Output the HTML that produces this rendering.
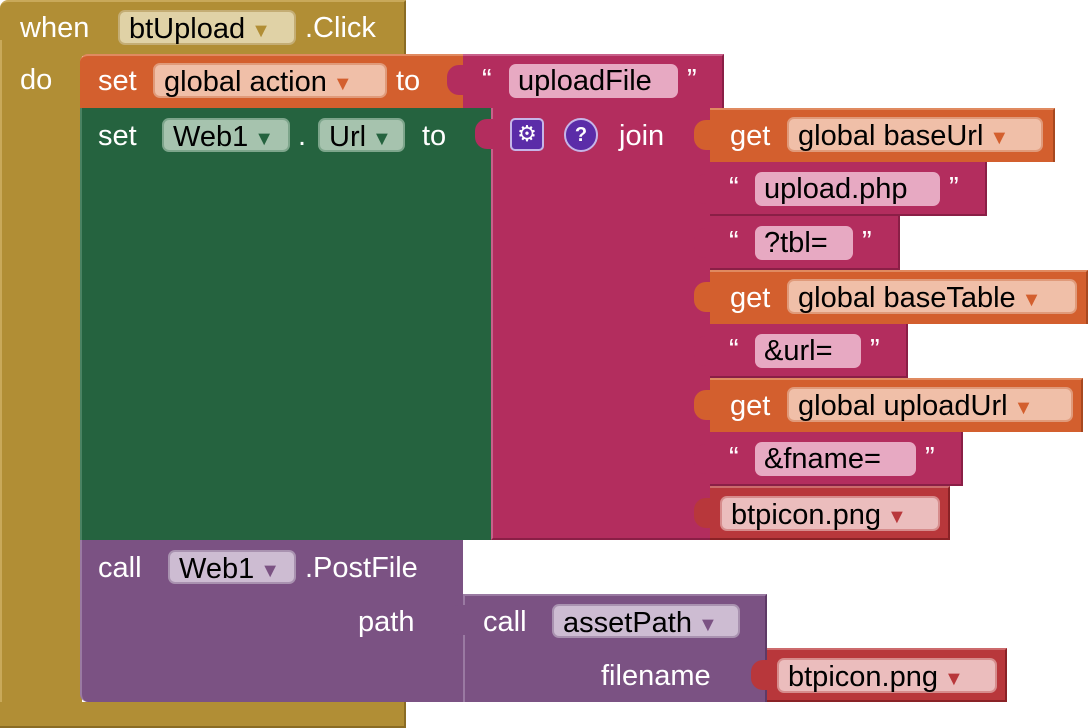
<!DOCTYPE html>
<html><head><meta charset="utf-8">
<style>
body{margin:0;width:1088px;height:728px;background:#fff;position:relative;overflow:hidden;font-family:"Liberation Sans",Arial,sans-serif;}
.b{position:absolute;box-sizing:border-box;}
.t{position:absolute;color:#fff;font-size:29px;line-height:32px;white-space:nowrap;}
.d{position:absolute;box-sizing:border-box;border-radius:7px;font-size:29px;line-height:34px;color:#000;padding-left:9px;white-space:nowrap;}
.d i{font-style:normal;font-size:20px;margin-left:6px;vertical-align:1px;}
.tab{position:absolute;width:18px;height:30px;border-radius:12px 0 0 12px;}
</style></head><body>
<div class="b" style="left:0;top:0;width:406px;height:56px;background:#B18E35;border-top:2px solid #c9a95a;border-right:2px solid #8a6c24;border-radius:8px 0 0 0"></div>
<div class="b" style="left:0;top:40px;width:82px;height:688px;background:#B18E35;border-left:2px solid #c9a95a;border-radius:0 0 0 8px"></div>
<div class="b" style="left:0;top:702px;width:406px;height:26px;background:#B18E35;border-right:2px solid #8a6c24;border-bottom:2px solid #8a6c24"></div>
<div class="t" style="left:20px;top:12px">when</div>
<div class="d" style="left:118px;top:10px;width:178px;height:35px;background:#E0D2A6;border:2px solid #c4ad74">btUpload<i style="color:#B18E35">▼</i></div>
<div class="t" style="left:305px;top:12px">.Click</div>
<div class="t" style="left:20px;top:64px">do</div>

<div class="b" style="left:80px;top:54px;width:385px;height:56px;background:#D35F2E;border-top:2px solid #e08a60;border-radius:8px 0 0 0"></div>
<div class="t" style="left:98px;top:65px">set</div>
<div class="d" style="left:153px;top:63px;width:234px;height:35px;background:#F0BFA8;border:2px solid #e09a7a">global action<i style="color:#D35F2E">▼</i></div>
<div class="t" style="left:396px;top:65px">to</div>
<div class="b" style="left:463px;top:54px;width:261px;height:54px;background:#B32D5E;border-top:2px solid #c8608a;border-right:2px solid #8a1f46"></div>
<div class="tab" style="left:447px;top:65px;background:#B32D5E"></div>
<div class="t" style="left:482px;top:64px">“</div>
<div class="d" style="left:509px;top:64px;width:169px;height:34px;background:#E7A9C2">uploadFile</div>
<div class="t" style="left:687px;top:64px">”</div>

<div class="b" style="left:80px;top:108px;width:412px;height:432px;background:#25633F;border-left:2px solid #4a8262"></div>
<div class="t" style="left:98px;top:120px">set</div>
<div class="d" style="left:162px;top:118px;width:128px;height:34px;background:#A6C3AE;border:2px solid #7da58b">Web1<i style="color:#25633F">▼</i></div>
<div class="t" style="left:298px;top:120px">.</div>
<div class="d" style="left:318px;top:118px;width:87px;height:34px;background:#A6C3AE;border:2px solid #7da58b">Url<i style="color:#25633F">▼</i></div>
<div class="t" style="left:422px;top:120px">to</div>
<div class="b" style="left:491px;top:108px;width:220px;height:432px;background:#B32D5E;border-left:2px solid #c8608a;border-bottom:2px solid #8a1f46"></div>
<div class="tab" style="left:475px;top:119px;background:#B32D5E"></div>
<div class="b" style="left:510px;top:118px;width:34px;height:33px;background:#5B2CA8;border:2px solid #c6b5e8;border-radius:5px;color:#fff;font-size:22px;text-align:center;line-height:28px">⚙</div>
<div class="b" style="left:564px;top:118px;width:34px;height:34px;background:#5B2CA8;border:2px solid #c6b5e8;border-radius:50%;color:#fff;font-size:20px;font-weight:bold;text-align:center;line-height:30px">?</div>
<div class="t" style="left:619px;top:120px">join</div>

<div class="b" style="left:710px;top:108px;width:345px;height:54px;background:#D35F2E;border-top:2px solid #e08a60;border-right:2px solid #a8481f"></div>
<div class="tab" style="left:694px;top:120px;background:#D35F2E"></div>
<div class="t" style="left:730px;top:120px">get</div>
<div class="d" style="left:787px;top:117px;width:256px;height:35px;background:#F0BFA8;border:2px solid #e09a7a">global baseUrl<i style="color:#D35F2E">▼</i></div>

<div class="b" style="left:710px;top:162px;width:277px;height:54px;background:#B32D5E;border-right:2px solid #8a1f46;border-bottom:2px solid #8a1f46"></div>
<div class="tab" style="left:694px;top:174px;background:#B32D5E"></div>
<div class="t" style="left:729px;top:172px">“</div>
<div class="d" style="left:755px;top:172px;width:185px;height:34px;background:#E7A9C2">upload.php</div>
<div class="t" style="left:949px;top:172px">”</div>

<div class="b" style="left:710px;top:216px;width:190px;height:54px;background:#B32D5E;border-right:2px solid #8a1f46;border-bottom:2px solid #8a1f46"></div>
<div class="tab" style="left:694px;top:228px;background:#B32D5E"></div>
<div class="t" style="left:729px;top:226px">“</div>
<div class="d" style="left:755px;top:226px;width:98px;height:34px;background:#E7A9C2">?tbl=</div>
<div class="t" style="left:862px;top:226px">”</div>

<div class="b" style="left:710px;top:270px;width:378px;height:54px;background:#D35F2E;border-top:2px solid #e08a60;border-right:2px solid #a8481f"></div>
<div class="tab" style="left:694px;top:282px;background:#D35F2E"></div>
<div class="t" style="left:730px;top:282px">get</div>
<div class="d" style="left:787px;top:279px;width:290px;height:35px;background:#F0BFA8;border:2px solid #e09a7a">global baseTable<i style="color:#D35F2E">▼</i></div>

<div class="b" style="left:710px;top:324px;width:198px;height:54px;background:#B32D5E;border-right:2px solid #8a1f46;border-bottom:2px solid #8a1f46"></div>
<div class="tab" style="left:694px;top:336px;background:#B32D5E"></div>
<div class="t" style="left:729px;top:334px">“</div>
<div class="d" style="left:755px;top:334px;width:106px;height:34px;background:#E7A9C2">&amp;url=</div>
<div class="t" style="left:870px;top:334px">”</div>

<div class="b" style="left:710px;top:378px;width:373px;height:54px;background:#D35F2E;border-top:2px solid #e08a60;border-right:2px solid #a8481f"></div>
<div class="tab" style="left:694px;top:390px;background:#D35F2E"></div>
<div class="t" style="left:730px;top:390px">get</div>
<div class="d" style="left:787px;top:387px;width:286px;height:35px;background:#F0BFA8;border:2px solid #e09a7a">global uploadUrl<i style="color:#D35F2E">▼</i></div>

<div class="b" style="left:710px;top:432px;width:253px;height:54px;background:#B32D5E;border-right:2px solid #8a1f46;border-bottom:2px solid #8a1f46"></div>
<div class="tab" style="left:694px;top:444px;background:#B32D5E"></div>
<div class="t" style="left:729px;top:442px">“</div>
<div class="d" style="left:755px;top:442px;width:161px;height:34px;background:#E7A9C2">&amp;fname=</div>
<div class="t" style="left:925px;top:442px">”</div>

<div class="b" style="left:710px;top:486px;width:240px;height:54px;background:#B8373B;border-top:2px solid #cc6a6c;border-right:2px solid #8a2226;border-bottom:2px solid #8a2226"></div>
<div class="tab" style="left:694px;top:498px;background:#B8373B"></div>
<div class="d" style="left:720px;top:496px;width:220px;height:35px;background:#EBBDBD;border:2px solid #d68c8c">btpicon.png<i style="color:#B8373B">▼</i></div>

<div class="b" style="left:80px;top:540px;width:383px;height:162px;background:#7B5283;border-left:2px solid #9a7aa2;border-radius:0 0 0 8px"></div>
<div class="t" style="left:98px;top:552px">call</div>
<div class="d" style="left:168px;top:550px;width:128px;height:34px;background:#CDBCD2;border:2px solid #a992b0">Web1<i style="color:#7B5283">▼</i></div>
<div class="t" style="left:305px;top:552px">.PostFile</div>
<div class="t" style="left:358px;top:606px">path</div>
<div class="b" style="left:463px;top:594px;width:304px;height:108px;background:#7B5283;border-left:2px solid #9a7aa2;border-top:2px solid #9a7aa2;border-right:2px solid #5e3a66"></div>
<div class="tab" style="left:447px;top:605px;background:#7B5283"></div>
<div class="t" style="left:483px;top:606px">call</div>
<div class="d" style="left:552px;top:604px;width:188px;height:34px;background:#CDBCD2;border:2px solid #a992b0">assetPath<i style="color:#7B5283">▼</i></div>
<div class="t" style="left:601px;top:660px">filename</div>
<div class="b" style="left:767px;top:648px;width:240px;height:54px;background:#B8373B;border-top:2px solid #cc6a6c;border-right:2px solid #8a2226;border-bottom:2px solid #8a2226"></div>
<div class="tab" style="left:751px;top:660px;background:#B8373B"></div>
<div class="d" style="left:777px;top:658px;width:220px;height:35px;background:#EBBDBD;border:2px solid #d68c8c">btpicon.png<i style="color:#B8373B">▼</i></div>
</body></html>
